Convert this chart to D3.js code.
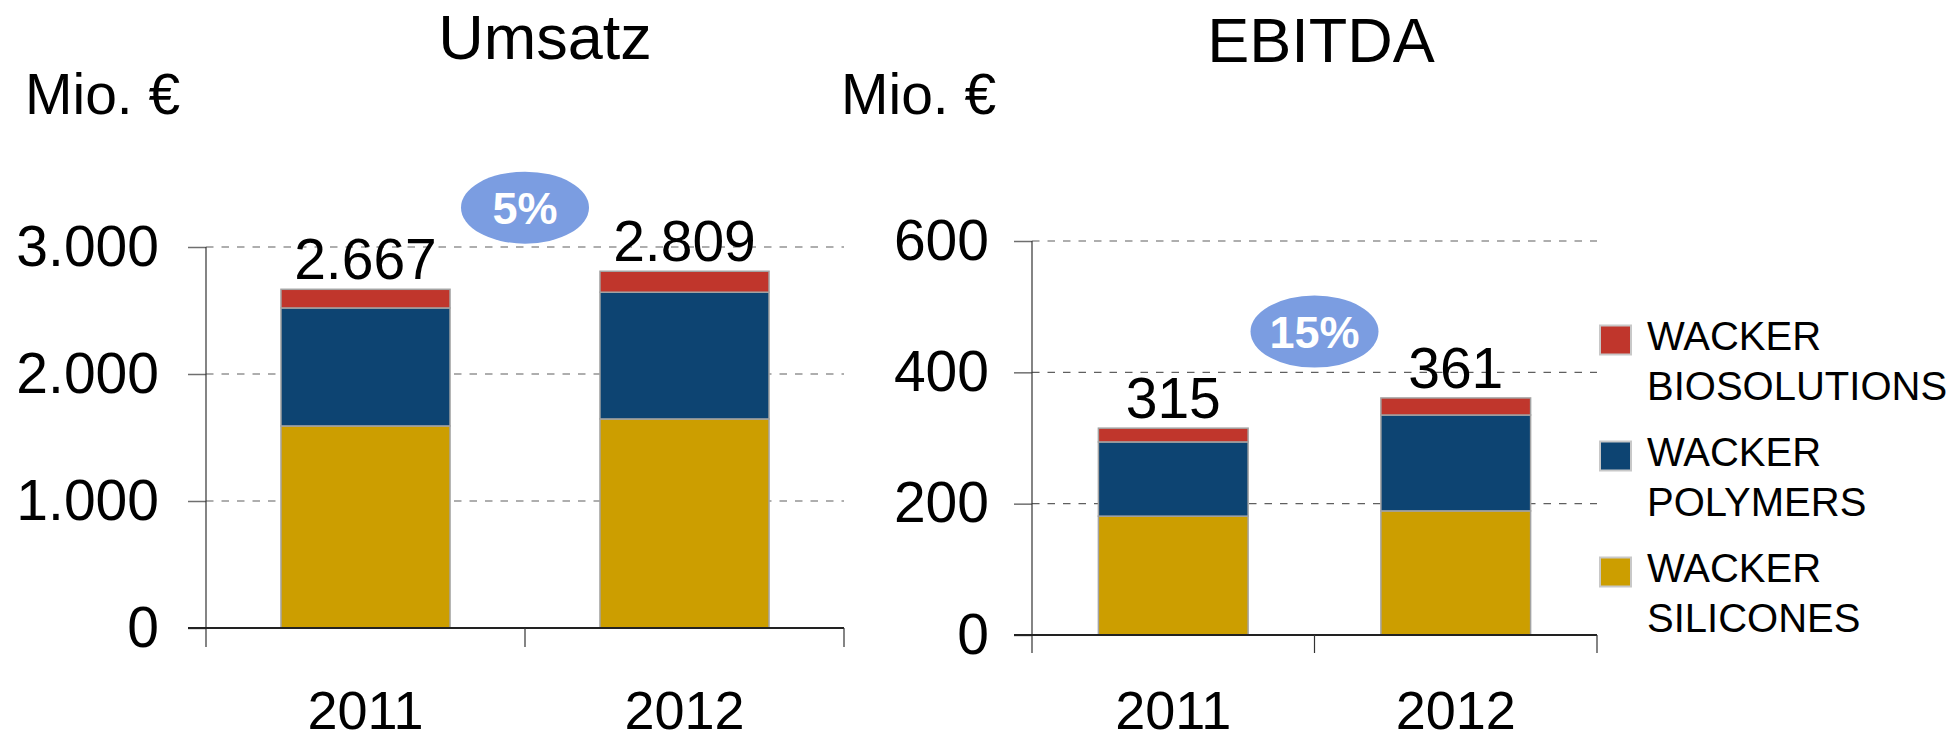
<!DOCTYPE html>
<html>
<head>
<meta charset="utf-8">
<script src="https://cdn.jsdelivr.net/npm/d3@7"></script>
<style>
  body { margin: 0; background: #fff; }
  svg text { font-family: "Liberation Sans", Arial, sans-serif; fill: #000; }
</style>
</head>
<body>
<div id="main"></div>
<script>
// data
const years = ["2011", "2012"];
const segments = ["silicones", "polymers", "bio"];
const legendLabels = [["WACKER", "BIOSOLUTIONS"], ["WACKER", "POLYMERS"], ["WACKER", "SILICONES"]];
const legendKeys = ["bio", "polymers", "silicones"];

const umsatzSilicones = [1591, 1646];
const umsatzPolymers = [929, 998];
const umsatzBio = [147, 165];
const umsatzTicks = [0, 1000, 2000, 3000];
const umsatzGrowth = "5%";

const ebitdaSilicones = [181, 189];
const ebitdaPolymers = [113, 146];
const ebitdaBio = [21, 26];
const ebitdaTicks = [0, 200, 400, 600];
const ebitdaGrowth = "15%";

const colors = { silicones: "#CC9E00", polymers: "#0D4472", bio: "#C0362C" };

const de = d3.formatLocale({ decimal: ",", thousands: ".", grouping: [3], currency: ["", " €"] });
const fmt = de.format(",d");

const svg = d3.select("#main").append("svg")
    .attr("width", 1958)
    .attr("height", 741);

function panel(opt) {
    const g = svg.append("g");
    const rows = years.map((y, i) => ({
        year: y,
        silicones: opt.silicones[i],
        polymers: opt.polymers[i],
        bio: opt.bio[i]
    }));
    const stacked = d3.stack().keys(segments)(rows);

    const x = d3.scaleBand().domain(years).range(opt.xRange).padding(0);
    const y = d3.scaleLinear().domain([0, d3.max(opt.ticks)]).range(opt.yRange);
    const barW = x.bandwidth() * 0.53;
    const x0 = opt.xRange[0], x1 = opt.xRange[1];
    const y0 = y(0);

    // dashed grid lines
    g.selectAll("line.grid")
        .data(opt.ticks.filter(t => t > 0))
        .enter().append("line")
        .attr("x1", x0).attr("x2", x1)
        .attr("y1", d => y(d)).attr("y2", d => y(d))
        .attr("stroke", "#5f5f5f")
        .attr("stroke-width", 1.2)
        .attr("stroke-dasharray", "7.5,8");

    // y axis ticks + labels
    const yAxis = d3.axisLeft(y).tickValues(opt.ticks).tickFormat(fmt)
        .tickSize(18).tickSizeOuter(0).tickPadding(opt.labelPad);
    const ya = g.append("g").attr("transform", `translate(${x0},0)`).call(yAxis);
    ya.select(".domain").remove();
    ya.selectAll(".tick line").attr("stroke", "#6f6f6f").attr("stroke-width", 1.5);
    ya.selectAll(".tick text").attr("font-size", 57).attr("fill", "#000")
        .attr("font-family", "'Liberation Sans', Arial, sans-serif");

    // bars
    stacked.forEach(layer => {
        g.selectAll(null)
            .data(layer)
            .enter().append("rect")
            .attr("x", d => x(d.data.year) + (x.bandwidth() - barW) / 2)
            .attr("width", barW)
            .attr("y", d => y(d[1]))
            .attr("height", d => y(d[0]) - y(d[1]))
            .attr("fill", colors[layer.key])
            .attr("stroke", "#a3a3a3")
            .attr("stroke-width", 1.5);
    });

    // y axis line
    g.append("line")
        .attr("x1", x0).attr("x2", x0)
        .attr("y1", y(d3.max(opt.ticks))).attr("y2", y0 + opt.tickDown)
        .attr("stroke", "#333").attr("stroke-width", 1.2);
    // x axis line
    g.append("line")
        .attr("x1", x0 - 18).attr("x2", x1)
        .attr("y1", y0).attr("y2", y0)
        .attr("stroke", "#222").attr("stroke-width", 2);
    // x category ticks
    const bounds = years.map(d => x(d)).concat([x1]);
    g.selectAll("line.xt")
        .data(bounds.slice(1))
        .enter().append("line")
        .attr("x1", d => d).attr("x2", d => d)
        .attr("y1", y0).attr("y2", y0 + opt.tickDown)
        .attr("stroke", "#333").attr("stroke-width", 1.2);

    // year labels
    g.selectAll("text.year")
        .data(years)
        .enter().append("text")
        .attr("x", d => x(d) + x.bandwidth() / 2)
        .attr("y", 729)
        .attr("text-anchor", "middle")
        .attr("font-size", 54)
        .text(d => d);

    // totals
    g.selectAll("text.total")
        .data(rows)
        .enter().append("text")
        .attr("x", d => x(d.year) + x.bandwidth() / 2)
        .attr("y", d => y(d.silicones + d.polymers + d.bio) - 10)
        .attr("text-anchor", "middle")
        .attr("font-size", 57)
        .text(d => fmt(d.silicones + d.polymers + d.bio));

    // growth bubble
    const bx = x(years[1]);
    const by = y(opt.bubbleAt);
    g.append("ellipse")
        .attr("cx", bx).attr("cy", by)
        .attr("rx", 64).attr("ry", 36)
        .attr("fill", "#7B9DE1");
    g.append("text")
        .attr("x", bx).attr("y", by + 16)
        .attr("text-anchor", "middle")
        .attr("font-size", 45)
        .attr("font-weight", "bold")
        .style("fill", "#fff")
        .text(opt.growth);

    // title + unit
    g.append("text")
        .attr("x", opt.titleX).attr("y", opt.titleY)
        .attr("text-anchor", "middle")
        .attr("font-size", 63)
        .text(opt.title);
    g.append("text")
        .attr("x", opt.unitX).attr("y", 114)
        .attr("font-size", 57)
        .text("Mio. €");
}

panel({
    title: "Umsatz", titleX: 545, titleY: 59, unitX: 25,
    silicones: umsatzSilicones, polymers: umsatzPolymers, bio: umsatzBio,
    ticks: umsatzTicks, growth: umsatzGrowth, bubbleAt: 3310,
    xRange: [206, 844], yRange: [628, 247], tickDown: 19, labelPad: 29
});

panel({
    title: "EBITDA", titleX: 1321, titleY: 62, unitX: 841,
    silicones: ebitdaSilicones, polymers: ebitdaPolymers, bio: ebitdaBio,
    ticks: ebitdaTicks, growth: ebitdaGrowth, bubbleAt: 462,
    xRange: [1032, 1597], yRange: [635, 241], tickDown: 18, labelPad: 25
});

// legend
const legend = svg.append("g").attr("transform", "translate(1600,0)");
const ly = d3.scalePoint().domain(legendKeys).range([340, 572]);
legendKeys.forEach((k, i) => {
    legend.append("rect")
        .attr("x", 0).attr("y", ly(k) - 14.5)
        .attr("width", 31).attr("height", 29)
        .attr("fill", colors[k])
        .attr("stroke", "#c8c8c8").attr("stroke-width", 2);
    legend.selectAll(null)
        .data(legendLabels[i])
        .enter().append("text")
        .attr("x", 47)
        .attr("y", (d, j) => ly(k) + 10 + j * 50)
        .attr("font-size", 40)
        .text(d => d);
});
</script>
</body>
</html>
